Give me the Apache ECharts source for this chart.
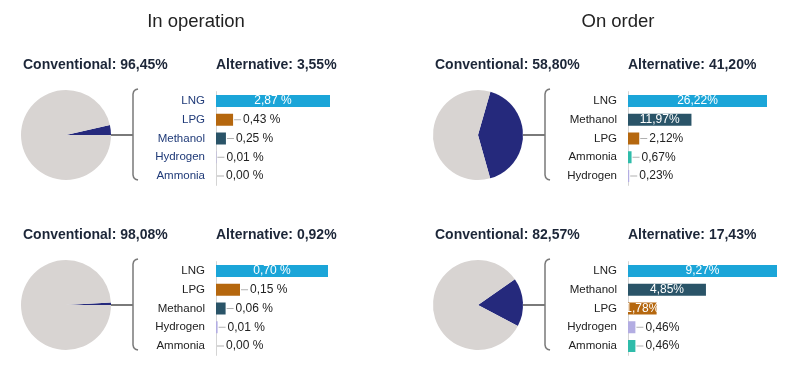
<!DOCTYPE html>
<html>
<head>
<meta charset="utf-8">
<script src="https://cdn.jsdelivr.net/npm/echarts@6/dist/echarts.min.js"></script>
<style>
  html, body { margin: 0; padding: 0; background: #fff; }
  #chart { width: 797px; height: 376px; }
</style>
</head>
<body>
<div id="chart"></div>
<script>
// column titles
const columnTitles = ['In operation', 'On order']

// top left: in operation
const opFuelsA = ['LNG', 'LPG', 'Methanol', 'Hydrogen', 'Ammonia']
const opValuesA = [2.87, 0.43, 0.25, 0.01, 0.00]
const opShareA = [96.45, 3.55]

// top right: on order
const orderFuelsA = ['LNG', 'Methanol', 'LPG', 'Ammonia', 'Hydrogen']
const orderValuesA = [26.22, 11.97, 2.12, 0.67, 0.23]
const orderShareA = [58.80, 41.20]

// bottom left: in operation
const opFuelsB = ['LNG', 'LPG', 'Methanol', 'Hydrogen', 'Ammonia']
const opValuesB = [0.70, 0.15, 0.06, 0.01, 0.00]
const opShareB = [98.08, 0.92]

// bottom right: on order
const orderFuelsB = ['LNG', 'Methanol', 'LPG', 'Hydrogen', 'Ammonia']
const orderValuesB = [9.27, 4.85, 1.78, 0.46, 0.46]
const orderShareB = [82.57, 17.43]

const fuelColors = {
  LNG: '#1ba5d8',
  LPG: '#b5670e',
  Methanol: '#2a5468',
  Hydrogen: '#b3ade2',
  Ammonia: '#2fbcaa'
}
const convColor = '#d8d4d2'
const altColor = '#25297c'
const FONT = '"Liberation Sans", Arial, sans-serif'

// layout per panel (ox/oy offsets, bar length, pie start angle, how many labels sit inside)
const panels = [
  { fuels: opFuelsA, values: opValuesA, share: opShareA, ox: 0, oy: 0, barLen: 114, startAngle: 12.8, inside: 1, spaced: true, catColor: '#1f3a78' },
  { fuels: orderFuelsA, values: orderValuesA, share: orderShareA, ox: 412, oy: 0, barLen: 139, startAngle: 74, inside: 2, spaced: false, catColor: '#222' },
  { fuels: opFuelsB, values: opValuesB, share: opShareB, ox: 0, oy: 170, barLen: 112, startAngle: 3.3, inside: 1, spaced: true, catColor: '#222' },
  { fuels: orderFuelsB, values: orderValuesB, share: orderShareB, ox: 412, oy: 170, barLen: 149, startAngle: 35, inside: 3, spaced: false, catColor: '#222' }
]

const fmt = (v, spaced) => v.toFixed(2).replace('.', ',') + (spaced ? ' %' : '%')

const grids = []
const xAxes = []
const yAxes = []
const series = []
const graphics = []

columnTitles.forEach((t, i) => {
  graphics.push({
    type: 'text',
    x: i === 0 ? 196 : 618,
    y: 22,
    style: {
      text: t,
      font: '18.5px ' + FONT,
      fill: '#222',
      align: 'center',
      verticalAlign: 'middle'
    }
  })
})

panels.forEach((p, i) => {
  const rowH = 18.75
  const top = 101 + p.oy - rowH / 2
  grids.push({ left: 216 + p.ox, top: top, width: p.barLen, height: rowH * 5 })
  xAxes.push({
    type: 'value', gridIndex: i, min: 0, max: v => v.max, show: false
  })
  yAxes.push({
    type: 'category', gridIndex: i, inverse: true, data: p.fuels,
    axisLine: { show: true, lineStyle: { color: '#d4d4d4', width: 1 } },
    axisTick: { show: false },
    axisLabel: {
      margin: 11,
      fontSize: 11.5,
      fontFamily: FONT,
      color: p.catColor
    }
  })
  series.push({
    type: 'bar',
    xAxisIndex: i,
    yAxisIndex: i,
    barWidth: 12,
    silent: true,
    data: p.values.map((v, k) => {
      const inside = k < p.inside
      return {
        value: v,
        itemStyle: { color: fuelColors[p.fuels[k]] },
        label: inside ? {
          show: true,
          position: 'inside',
          color: '#fff',
          fontSize: 12,
          fontFamily: FONT,
          formatter: fmt(v, p.spaced)
        } : {
          show: true,
          position: 'right',
          distance: 1,
          formatter: '{l| }{t|' + fmt(v, p.spaced) + '}',
          rich: {
            l: { width: 7, height: 1, backgroundColor: '#b0b0b0' },
            t: { color: '#222', fontSize: 12, padding: [0, 0, 0, 2], fontFamily: FONT }
          }
        }
      }
    })
  })
  series.push({
    type: 'pie',
    center: [66 + p.ox, 135 + p.oy],
    radius: 45,
    startAngle: p.startAngle,
    clockwise: true,
    silent: true,
    label: { show: false },
    labelLine: { show: false },
    itemStyle: { borderWidth: 0 },
    data: [
      { name: 'Alternative', value: p.share[1], itemStyle: { color: altColor } },
      { name: 'Conventional', value: p.share[0], itemStyle: { color: convColor } }
    ]
  })

  // headers
  graphics.push({
    type: 'text', x: 23 + p.ox, y: 65 + p.oy,
    style: {
      text: 'Conventional: ' + fmt(p.share[0], false),
      font: 'bold 14px ' + FONT,
      fill: '#1c2638', verticalAlign: 'middle'
    }
  })
  graphics.push({
    type: 'text', x: 216 + p.ox, y: 65 + p.oy,
    style: {
      text: 'Alternative: ' + fmt(p.share[1], false),
      font: 'bold 14px ' + FONT,
      fill: '#1c2638', verticalAlign: 'middle'
    }
  })

  // connector and bracket
  const bx = 133 + p.ox
  const by0 = 89 + p.oy
  const by1 = 180 + p.oy
  graphics.push({
    type: 'line',
    shape: { x1: 111 + p.ox, y1: 135 + p.oy, x2: bx, y2: 135 + p.oy },
    style: { stroke: '#7a7a7a', lineWidth: 2 }
  })
  graphics.push({
    type: 'polyline',
    shape: {
      points: [
        [bx + 5, by0], [bx + 2.5, by0 + 0.7], [bx + 0.7, by0 + 2.5], [bx, by0 + 5],
        [bx, by1 - 5], [bx + 0.7, by1 - 2.5], [bx + 2.5, by1 - 0.7], [bx + 5, by1]
      ]
    },
    style: { stroke: '#7a7a7a', lineWidth: 1.5, fill: null }
  })
})

const chart = echarts.init(document.getElementById('chart'))
chart.setOption({
  animation: false,
  backgroundColor: '#fff',
  grid: grids,
  xAxis: xAxes,
  yAxis: yAxes,
  series: series,
  graphic: graphics
})
</script>
</body>
</html>
